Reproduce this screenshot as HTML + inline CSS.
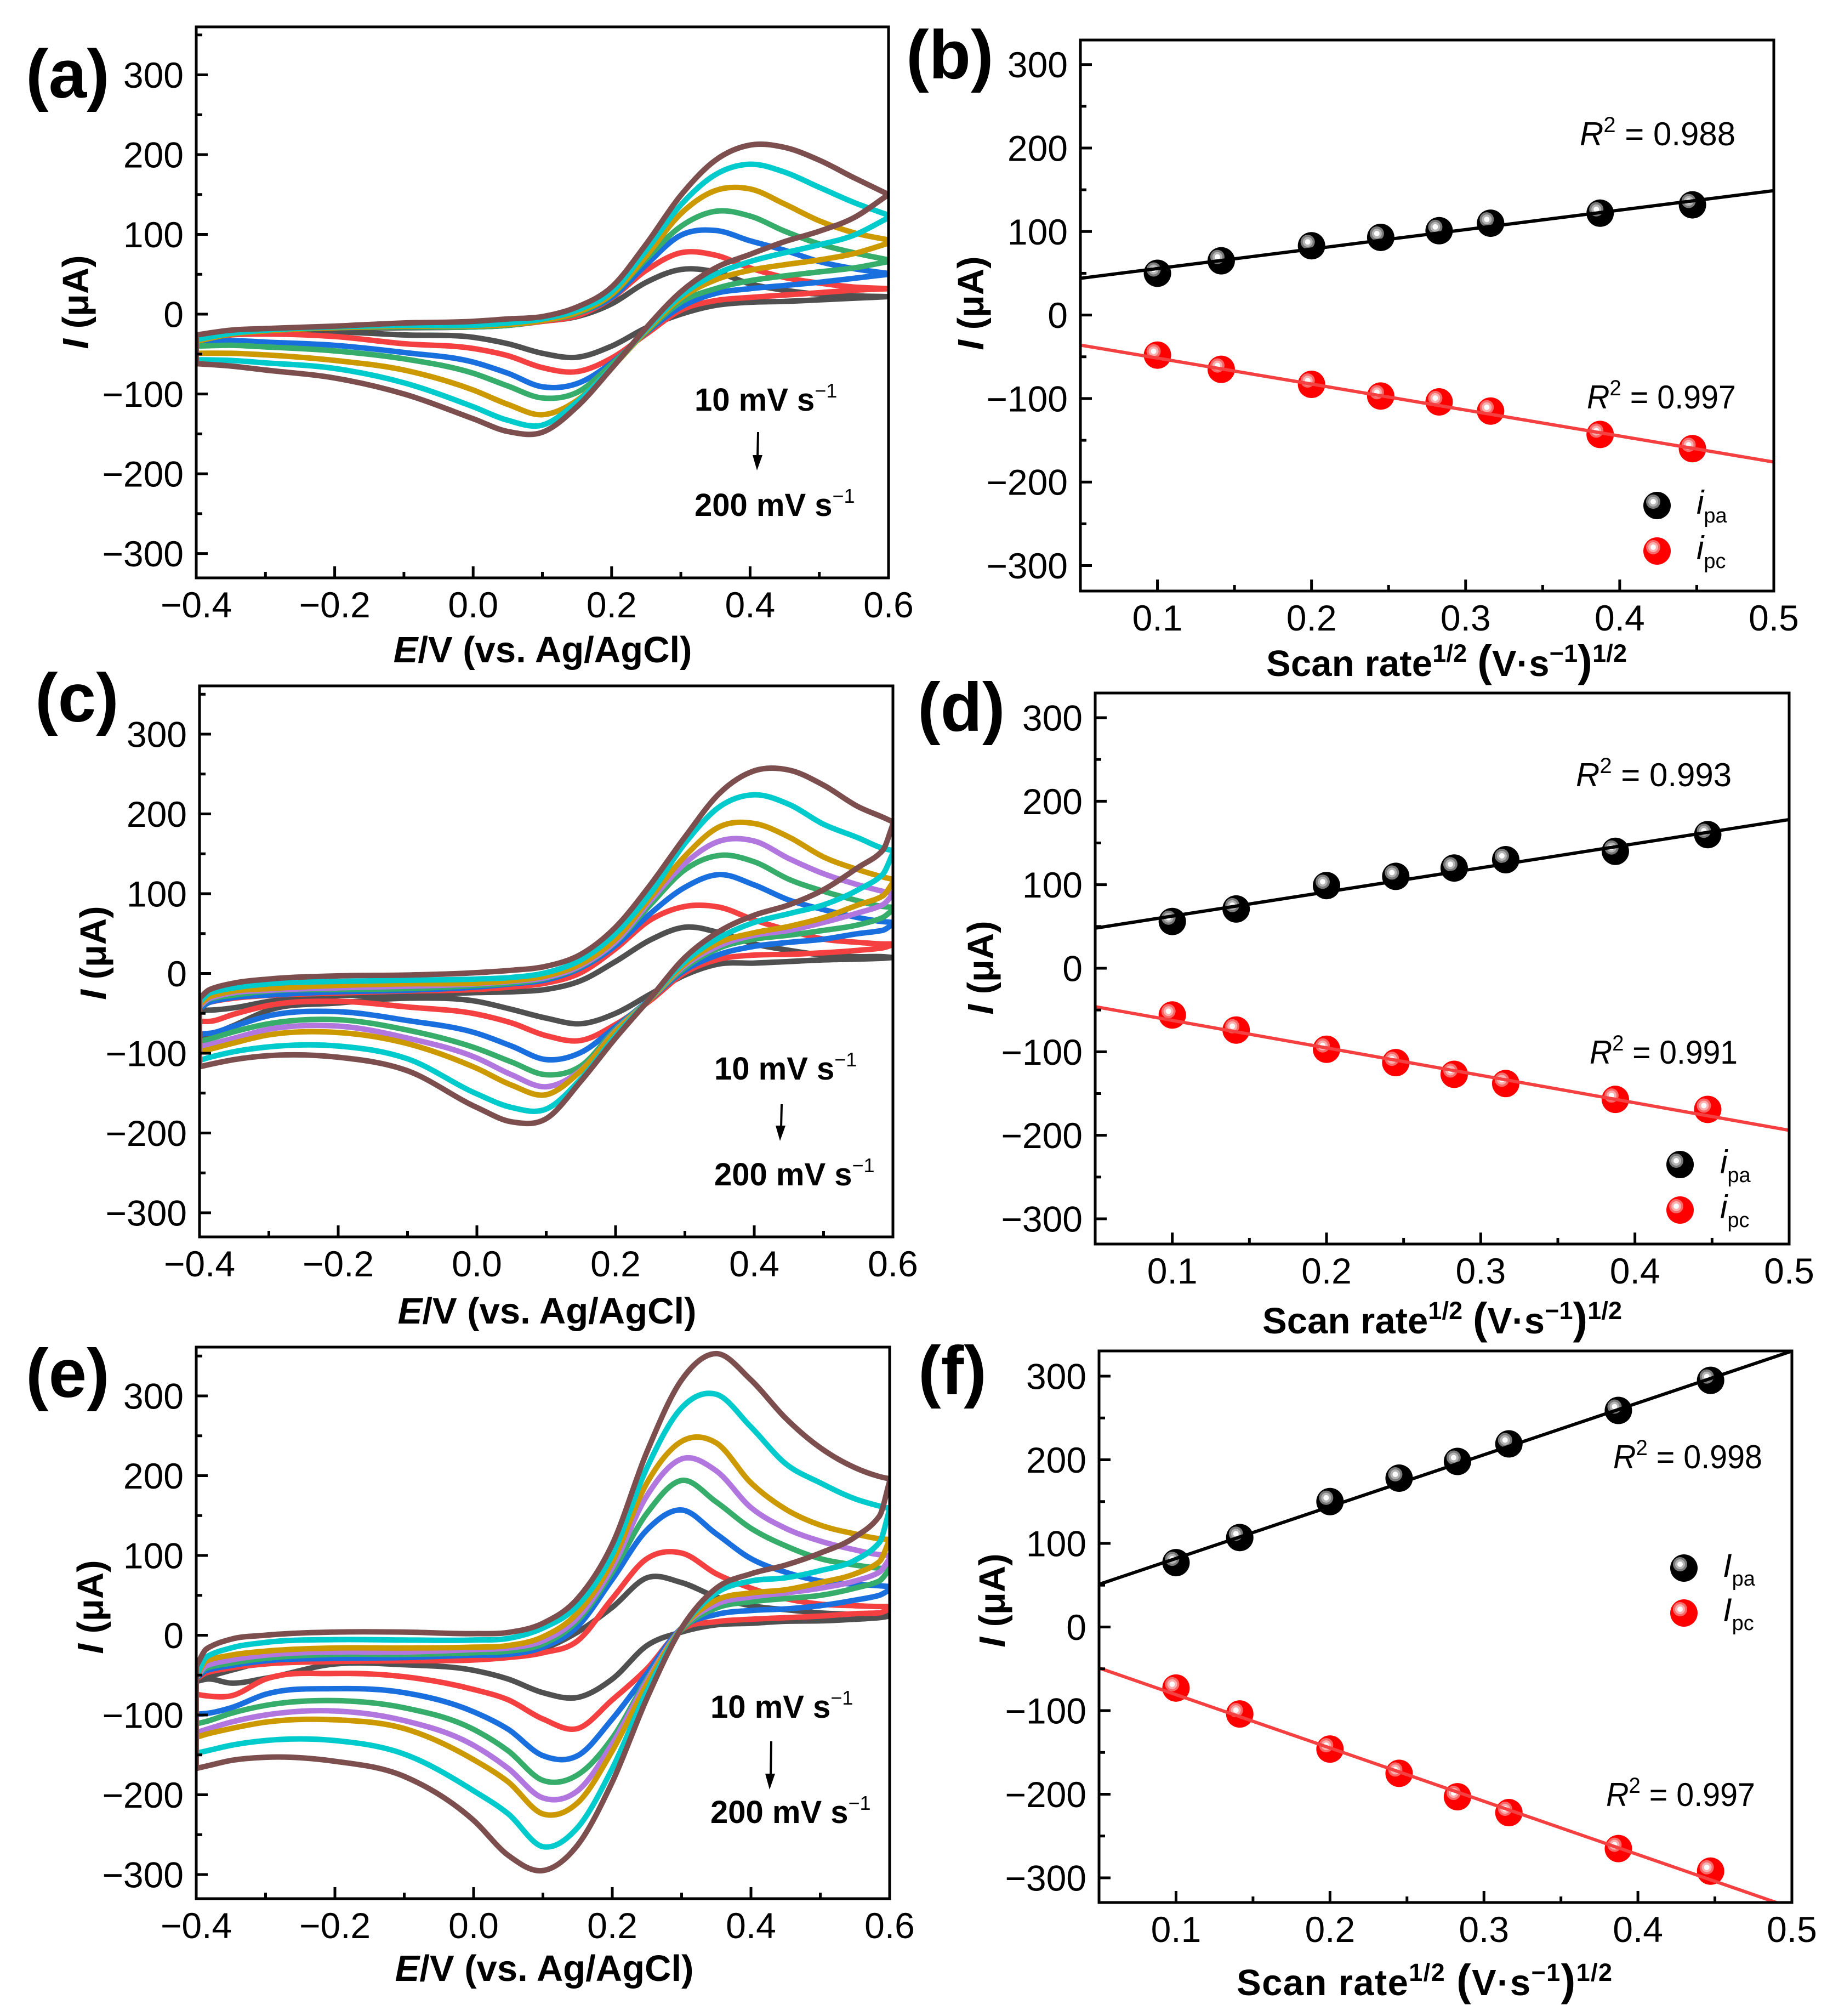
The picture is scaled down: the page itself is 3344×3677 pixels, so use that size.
<!DOCTYPE html>
<html lang="en">
<head>
<meta charset="utf-8">
<title>Cyclic voltammetry and scan-rate fits</title>
<style>
html,body{margin:0;padding:0;background:#fff;}
svg{display:block;font-family:"Liberation Sans",sans-serif;fill:#000;}
.tl{font-size:66px;}
.ti{font-size:67px;font-weight:bold;}
.pl{font-size:125px;font-weight:bold;}
.an{font-size:58px;font-weight:bold;}
.r2{font-size:60px;}
.lg{font-size:60px;font-style:italic;}
</style>
</head>
<body>
<svg id="fig" xmlns="http://www.w3.org/2000/svg" width="3344" height="3677" viewBox="0 0 3344 3677">
<rect x="0" y="0" width="3344" height="3677" fill="#fff"/>

<g id="panel-a">
  <text class="pl" x="47" y="178">(a)</text>
  <text class="ti" text-anchor="middle" transform="translate(161,551) rotate(-90)"><tspan font-style="italic">I</tspan> (μA)</text>
  <text class="ti" text-anchor="middle" x="990" y="1208"><tspan font-style="italic">E</tspan>/V (vs. Ag/AgCl)</text>
  <text class="an" x="1267" y="749">10 mV s<tspan dy="-24" font-size="36" font-weight="normal">−1</tspan></text>
  <text class="an" x="1267" y="941">200 mV s<tspan dy="-24" font-size="36" font-weight="normal">−1</tspan></text>
  <g><line x1="1383" y1="788" x2="1382" y2="835" stroke="#000" stroke-width="4"/><polygon points="1373,830 1391,830 1381,858" fill="#000"/></g>
</g>

<g id="panel-b">
  <text class="pl" x="1653" y="143">(b)</text>
  <text class="ti" text-anchor="middle" transform="translate(1794,553) rotate(-90)"><tspan font-style="italic">I</tspan> (μA)</text>
  <text class="ti" x="2310" y="1233" textLength="658">Scan rate<tspan dy="-26" font-size="45">1/2</tspan><tspan dy="26"> </tspan><tspan font-size="80">(</tspan>V·s<tspan dy="-26" font-size="45">−1</tspan><tspan dy="26" font-size="80">)</tspan><tspan dy="-26" font-size="45">1/2</tspan></text>
  <text class="r2" x="2882" y="265"><tspan font-style="italic">R</tspan><tspan dy="-24" font-size="40">2</tspan><tspan dy="24"> = 0.988</tspan></text>
  <text class="r2" x="2895" y="745" textLength="272" lengthAdjust="spacingAndGlyphs"><tspan font-style="italic">R</tspan><tspan dy="-24" font-size="40">2</tspan><tspan dy="24"> = 0.997</tspan></text>
  <text class="lg" x="3095" y="937">i<tspan dy="16" font-size="38" font-style="normal">pa</tspan></text>
  <text class="lg" x="3095" y="1020">i<tspan dy="16" font-size="38" font-style="normal">pc</tspan></text>
</g>

<g id="panel-c">
  <text class="pl" x="64" y="1316">(c)</text>
  <text class="ti" text-anchor="middle" transform="translate(193,1738) rotate(-90)"><tspan font-style="italic">I</tspan> (μA)</text>
  <text class="ti" text-anchor="middle" x="998" y="2414"><tspan font-style="italic">E</tspan>/V (vs. Ag/AgCl)</text>
  <text class="an" x="1303" y="1969">10 mV s<tspan dy="-24" font-size="36" font-weight="normal">−1</tspan></text>
  <text class="an" x="1303" y="2162">200 mV s<tspan dy="-24" font-size="36" font-weight="normal">−1</tspan></text>
  <g><line x1="1426" y1="2014" x2="1425" y2="2058" stroke="#000" stroke-width="4"/><polygon points="1415,2053 1433,2053 1423,2081" fill="#000"/></g>
</g>

<g id="panel-d">
  <text class="pl" x="1674" y="1333">(d)</text>
  <text class="ti" text-anchor="middle" transform="translate(1812,1765) rotate(-90)"><tspan font-style="italic">I</tspan> (μA)</text>
  <text class="ti" x="2303" y="2432" textLength="656">Scan rate<tspan dy="-26" font-size="45">1/2</tspan><tspan dy="26"> </tspan><tspan font-size="80">(</tspan>V·s<tspan dy="-26" font-size="45">−1</tspan><tspan dy="26" font-size="80">)</tspan><tspan dy="-26" font-size="45">1/2</tspan></text>
  <text class="r2" x="2875" y="1434"><tspan font-style="italic">R</tspan><tspan dy="-24" font-size="40">2</tspan><tspan dy="24"> = 0.993</tspan></text>
  <text class="r2" x="2900" y="1940" textLength="270" lengthAdjust="spacingAndGlyphs"><tspan font-style="italic">R</tspan><tspan dy="-24" font-size="40">2</tspan><tspan dy="24"> = 0.991</tspan></text>
  <text class="lg" x="3138" y="2140">i<tspan dy="16" font-size="38" font-style="normal">pa</tspan></text>
  <text class="lg" x="3138" y="2222">i<tspan dy="16" font-size="38" font-style="normal">pc</tspan></text>
</g>

<g id="panel-e">
  <text class="pl" x="47" y="2548">(e)</text>
  <text class="ti" text-anchor="middle" transform="translate(188,2931) rotate(-90)"><tspan font-style="italic">I</tspan> (μA)</text>
  <text class="ti" text-anchor="middle" x="993" y="3613"><tspan font-style="italic">E</tspan>/V (vs. Ag/AgCl)</text>
  <text class="an" x="1296" y="3133">10 mV s<tspan dy="-24" font-size="36" font-weight="normal">−1</tspan></text>
  <text class="an" x="1296" y="3325">200 mV s<tspan dy="-24" font-size="36" font-weight="normal">−1</tspan></text>
  <g><line x1="1407" y1="3176" x2="1406" y2="3240" stroke="#000" stroke-width="4"/><polygon points="1396,3235 1414,3235 1404,3264" fill="#000"/></g>
</g>

<g id="panel-f">
  <text class="pl" x="1675" y="2543">(f)</text>
  <text class="ti" text-anchor="middle" transform="translate(1833,2919) rotate(-90)"><tspan font-style="italic">I</tspan> (μA)</text>
  <text class="ti" x="2256" y="3639" textLength="685">Scan rate<tspan dy="-26" font-size="45">1/2</tspan><tspan dy="26"> </tspan><tspan font-size="80">(</tspan>V·s<tspan dy="-26" font-size="45">−1</tspan><tspan dy="26" font-size="80">)</tspan><tspan dy="-26" font-size="45">1/2</tspan></text>
  <text class="r2" x="2943" y="2678" textLength="272" lengthAdjust="spacingAndGlyphs"><tspan font-style="italic">R</tspan><tspan dy="-24" font-size="40">2</tspan><tspan dy="24"> = 0.998</tspan></text>
  <text class="r2" x="2930" y="3294" textLength="272" lengthAdjust="spacingAndGlyphs"><tspan font-style="italic">R</tspan><tspan dy="-24" font-size="40">2</tspan><tspan dy="24"> = 0.997</tspan></text>
  <text class="lg" x="3143" y="2876">I<tspan dy="16" font-size="38" font-style="normal">pa</tspan></text>
  <text class="lg" x="3143" y="2957">I<tspan dy="16" font-size="38" font-style="normal">pc</tspan></text>
</g>
</svg>

<script>
/* ---------- CV potentials (V) ---------- */
const potentialsA = [-0.4,-0.35,-0.3,-0.2,-0.1,0,0.05,0.1,0.15,0.2,0.25,0.3,0.35,0.4,0.45,0.5,0.55,0.6];
const potentialsCE = [-0.4,-0.385,-0.35,-0.3,-0.2,-0.1,0,0.05,0.1,0.15,0.2,0.25,0.3,0.35,0.4,0.45,0.5,0.55,0.585,0.6];

/* ---------- Panel (a) currents (uA) : forward sweep ---------- */
const aFwd10 = [-34,-25,-21,-18,-17,-16,-14,-9,-3,13,40,56,53,38,30,25,23,22];
const aFwd20 = [-34,-25,-21,-17,-16,-16,-14,-9,-2,20,55,77,74,58,46,39,34,32];
const aFwd50 = [-34,-25,-21,-17,-16,-16,-14,-8,1,21,62,99,105,92,80,66,57,51];
const aFwd80 = [-34,-25,-21,-17,-16,-16,-14,-8,1,24,69,110,129,123,104,88,77,68];
const aFwd100 = [-34,-25,-21,-17,-15,-15,-13,-8,2.5,25,73,126,155,157,138,117,102,93];
const aFwd150 = [-32,-24,-20,-16,-14,-14,-11,-6,5,28,80,137,175,188,178,159,140,124];
const aFwd200 = [-26,-20,-18,-15,-11,-9,-6,-3,9,34,88,149,193,212,209,193,171,150];
/* Panel (a) : reverse sweep */
const aRev10 = [-34,-23,-21,-22,-26,-29,-37,-49,-54,-40,-17,0,11,15,16,18,20,22];
const aRev20 = [-34,-26,-25,-28,-37,-43,-52,-67,-72,-55,-25,5,17,21,24,27,30,32];
const aRev50 = [-34,-33,-35,-39,-48,-60,-74,-91,-87,-61,-23,9,26,32,36,40,45,50];
const aRev80 = [-40,-39,-41,-46,-56,-74,-90,-105,-98,-63,-22,15,32,42,48,53,58,66];
const aRev100 = [-49,-49,-51,-58,-70,-95,-113,-126,-108,-67,-21,20,43,55,62,68,76,89];
const aRev150 = [-57,-58,-61,-68,-86,-116,-133,-139,-110,-67,-19,23,50,66,77,87,99,121];
const aRev200 = [-62,-65,-70,-80,-100,-131,-147,-148,-116,-68,-17,28,58,75,91,104,121,150];

/* ---------- Panel (c) ---------- */
const cFwd10 = [-46,-46,-43,-35,-28,-27,-24,-23,-20,-9,15,42,58,51,37,29,23,21,21,20];
const cFwd20 = [-44,-36,-31,-27.5,-24.5,-22,-20,-17,-12,1,31,67,84,83,67,54,43,39,37,37];
const cFwd50 = [-44,-36,-30,-27,-23,-21,-17,-13,-8,7,35,75,108,124,111,92,80,70,65,64];
const cFwd80 = [-42,-32,-27,-22,-20,-19,-15,-12,-6,9,39,86,130,148,140,118,103,91,84,83];
const cFwd100 = [-41,-31,-24,-21,-18,-16,-13,-10,-5,10,40,91,138,166,166,144,125,111,103,100];
const cFwd120 = [-39,-29,-22,-19,-15,-13,-12,-9,-3,12,43,95,147,184,188,171,146,130,121,118];
const cFwd150 = [-36,-24.5,-18,-13,-10,-8.5,-7,-5,1,17,50,100,163,209,224,212,187,170,157,154];
const cFwd200 = [-31,-20,-12,-7,-3,-2,1,4,9,24,58,111,171,226,254,255,236,209,196,190];
const cRev10 = [-85,-78,-65,-46,-37,-31,-35,-45,-56,-63,-50,-26,-2,12,13,15,17,18,19,20];
const cRev20 = [-60,-60,-51,-40,-35,-42,-51,-62,-78,-84,-64,-34,1,18,23,24,26,29,32,36];
const cRev50 = [-76,-75,-66,-53,-48,-59,-75,-91,-108,-99,-67,-32,4,24,34,39,43,50,54,62];
const cRev80 = [-85,-82,-73,-63,-58,-71,-94,-111,-127,-116,-70,-32,7,32,43,48,54,61,70,80];
const cRev100 = [-92,-89,-81,-70,-66,-81,-106,-127,-142,-121,-72,-32,10,35,48,54,64,76,86,99];
const cRev120 = [-98,-95,-87,-77,-74,-88,-119,-140,-152,-122,-73,-32,12,39,51,59,70,86,97,114];
const cRev150 = [-109,-105,-98,-92,-91,-107,-151,-168,-170,-132,-78,-31,15,45,64,75,86,105,124,151];
const cRev200 = [-117,-114,-108,-103,-105,-122,-168,-186,-182,-135,-81,-31,20,53,73,86,105,133,154,187];

/* ---------- Panel (e) ---------- */
const eFwd10 = [-54,-52,-44,-33,-24,-24,-26,-25,-17,4,35,72,66,48,37,32,28,26,25,25];
const eFwd20 = [-55,-47,-41,-36,-33,-32,-31,-28,-22,-7,46,96,103,77,59,46,39,37,36,36];
const eFwd50 = [-54,-44,-38,-32,-29,-28,-25,-24,-15,11,70,132,157,127,96,79,68,64,62,61];
const eFwd80 = [-53,-41,-35,-29,-24,-24,-22,-20,-11,18,79,153,194,167,134,112,96,88,84,83];
const eFwd100 = [-53,-38,-31,-25,-21,-21,-18,-16,-7,22,85,175,221,206,160,134,118,107,101,100];
const eFwd120 = [-52,-32,-25,-20,-16,-16,-15,-13,-2,28,92,191,243,241,191,158,138,127,121,120];
const eFwd150 = [-51,-27,-16,-9,-5.5,-6,-6,-4,9,37,101,210,285,302,261,215,191,171,162,159];
const eFwd200 = [-39,-17,-5,0,4,4,2,3.5,15,46,114,230,320,353,320,272,235,210,199,196];
const eRev10 = [-58,-55,-60,-54,-36,-37,-44,-55,-72,-78,-55,-13,4,13,15,17.5,18,20,22,24];
const eRev20 = [-74,-76,-76,-55,-48,-52,-68,-81,-105,-117,-81,-42,7,17,20,22,24,27,28,33];
const eRev50 = [-99,-98,-91,-74,-67,-72,-96,-118,-151,-151,-105,-48,9,26,31,33,37,44,50,57];
const eRev80 = [-111,-108,-98,-88,-82,-91,-118,-145,-182,-175,-129,-55,7,34,42,46,50,59,68,83];
const eRev100 = [-122,-118,-109,-100,-95,-107,-138,-167,-204,-195,-136,-57,9,39,48,53,59,68,79,96];
const eRev120 = [-128,-124,-117,-109,-106,-117,-156,-184,-224,-210,-145,-61,9,44,53,57,66,77,92,120];
const eRev150 = [-148,-145,-138,-132,-132,-149,-195,-224,-265,-241,-167,-70,9,53,68,72,81,94,116,158];
const eRev200 = [-167,-164,-157,-153,-158,-177,-232,-276,-295,-263,-184,-79,9,59,77,88,103,123,149,193];

/* ---------- Scan-rate fits ---------- */
const sqrtScanRates = [0.1,0.1414,0.2,0.2449,0.2828,0.3162,0.3873,0.4472];
const fitEnds = [0.05,0.5];
const bPa = [50,65,83,93,101,110,122,132];
const bPc = [-48,-65,-83,-97,-104,-115,-143,-160];
const bFitPa = [44,149];
const bFitPc = [-36,-176];
const dPa = [56,71,99,110,120,130,140,160];
const dPc = [-56,-74,-97,-113,-127,-138,-157,-169];
const dFitPa = [48,178];
const dFitPc = [-46,-194];
const fPa = [77,107,150,178,198,219,259,295];
const fPc = [-73,-104,-146,-175,-203,-222,-265,-292];
const fFitPa = [51,330];
const fFitPc = [-49,-336];

/* ---------- Tick labels ---------- */
const yTickValues = [-300,-200,-100,0,100,200,300];
const yTickLabels = ['−300','−200','−100','0','100','200','300'];
const yMinorValues = [-250,-150,-50,50,150,250,350];
const cvXTickValues = [-0.4,-0.2,0,0.2,0.4,0.6];
const cvXTickLabels = ['−0.4','−0.2','0.0','0.2','0.4','0.6'];
const cvXMinorValues = [-0.3,-0.1,0.1,0.3,0.5];
const fitXTickValues = [0.1,0.2,0.3,0.4,0.5];
const fitXTickLabels = ['0.1','0.2','0.3','0.4','0.5'];
const fitXMinorValues = [0.15,0.25,0.35,0.45];

/* ---------- Series styling ---------- */
const GRAY='#505050',RED='#F44040',BLUE='#1A6FDF',GREEN='#37AD6B',PURPLE='#B177DE',GOLD='#CC9900',CYAN='#00CBCC',BROWN='#7D4E4E';

const SVGNS='http://www.w3.org/2000/svg';
function make(tag,attrs,parent){
  const el=document.createElementNS(SVGNS,tag);
  for(const k in attrs){el.setAttribute(k,attrs[k]);}
  parent.appendChild(el);
  return el;
}
function axisFns(p){
  return {
    x:function(v){return p.L+(v-p.xMin)*(p.R-p.L)/(p.xMax-p.xMin);},
    y:function(v){return p.y300+(300-v)*(p.yNeg300-p.y300)/600;}
  };
}
function branch(xs,ys,start){
  const n=xs.length;
  const m=[];
  for(let i=0;i<n;i++){
    if(i===0){m.push((ys[1]-ys[0])/(xs[1]-xs[0]));}
    else if(i===n-1){m.push((ys[n-1]-ys[n-2])/(xs[n-1]-xs[n-2]));}
    else{
      const h0=xs[i]-xs[i-1],h1=xs[i+1]-xs[i];
      const d0=(ys[i]-ys[i-1])/h0,d1=(ys[i+1]-ys[i])/h1;
      const ratio=Math.min(Math.abs(h0),Math.abs(h1))/Math.max(Math.abs(h0),Math.abs(h1));
      if(ratio<0.49&&d0*d1>0){m.push(2*d0*d1/(d0+d1));}
      else{m.push((h1*d0+h0*d1)/(h0+h1));}
    }
  }
  let d=start+xs[0].toFixed(1)+' '+ys[0].toFixed(1);
  for(let i=0;i<n-1;i++){
    const h=(xs[i+1]-xs[i])/3;
    d+=' C'+(xs[i]+h).toFixed(1)+' '+(ys[i]+m[i]*h).toFixed(1)+' '+(xs[i+1]-h).toFixed(1)+' '+(ys[i+1]-m[i+1]*h).toFixed(1)+' '+xs[i+1].toFixed(1)+' '+ys[i+1].toFixed(1);
  }
  return d;
}
function drawAxes(p,fn,xMajor,xLabels,xMinor){
  const g=document.getElementById(p.id);
  const axes=make('g',{},g);
  
  
  yTickValues.forEach(function(v,i){
    const t=make('line',{x1:p.L,x2:p.L+21,y1:fn.y(v),y2:fn.y(v),stroke:'#000','stroke-width':5},axes);
    
    
    const l=make('text',{class:'tl',x:p.L-23,y:fn.y(v)+23.5,'text-anchor':'end'},axes);
    
    
    l.textContent=yTickLabels[i];
  });
  yMinorValues.forEach(function(v){
    if(fn.y(v)<p.T){return;}
    const t=make('line',{x1:p.L,x2:p.L+11,y1:fn.y(v),y2:fn.y(v),stroke:'#000','stroke-width':5},axes);
    
    
  });
  xMajor.forEach(function(v,i){
    const t=make('line',{x1:fn.x(v),x2:fn.x(v),y1:p.B,y2:p.B-21,stroke:'#000','stroke-width':5},axes);
    
    
    const l=make('text',{class:'tl',x:fn.x(v),y:p.B+72,'text-anchor':'middle'},axes);
    
    
    l.textContent=xLabels[i];
  });
  xMinor.forEach(function(v){
    const t=make('line',{x1:fn.x(v),x2:fn.x(v),y1:p.B,y2:p.B-11,stroke:'#000','stroke-width':5},axes);
    
    
  });
}
function drawFrame(p){
  const g=document.getElementById(p.id);
  const f=make('rect',{x:p.L,y:p.T,width:p.R-p.L,height:p.B-p.T,fill:'none',stroke:'#000','stroke-width':5},g);
  
  
}
function makeClip(p){
  const g=document.getElementById(p.id);
  const c=make('clipPath',{id:p.id+'-clip'},g);
  make('rect',{x:p.L,y:p.T,width:p.R-p.L,height:p.B-p.T},c);
  const plot=make('g',{'clip-path':'url(#'+p.id+'-clip)'},g);
  
  
  return plot;
}
function drawCV(p,potentials,series){
  const fn=axisFns(p);
  const plot=makeClip(p);
  const xs=potentials.map(fn.x);
  const xsR=xs.slice().reverse();
  series.forEach(function(s){
    const yF=s.fwd.map(fn.y);
    const yR=s.rev.map(fn.y).reverse();
    const d=branch(xs,yF,'M')+' '+branch(xsR,yR,'L')+' Z';
    const path=make('path',{d:d,fill:'none',stroke:s.color,'stroke-width':10,'stroke-linejoin':'round'},plot);
    
    
  });
  drawAxes(p,fn,cvXTickValues,cvXTickLabels,cvXMinorValues);
  drawFrame(p);
}
function sphere(parent,cx,cy,kind){
  const base=kind==='pa'?'#000000':'#ff0000';
  const ring1=kind==='pa'?'#7a7a7a':'#f86a6a';
  const ring2=kind==='pa'?'#b4b4b4':'#fbb0b0';
  const g=make('g',{},parent);
  
  
  make('circle',{cx:cx,cy:cy,r:25,fill:base},g);
  make('circle',{cx:cx-7,cy:cy-7,r:13,fill:ring1},g);
  make('circle',{cx:cx-7,cy:cy-7,r:9,fill:ring2},g);
  make('circle',{cx:cx-7,cy:cy-7,r:5,fill:'#ffffff'},g);
}
function drawFit(p,pa,pc,fitPa,fitPc,legend){
  const fn=axisFns(p);
  const plot=makeClip(p);
  sqrtScanRates.forEach(function(v,i){sphere(plot,fn.x(v),fn.y(pa[i]),'pa');});
  sqrtScanRates.forEach(function(v,i){sphere(plot,fn.x(v),fn.y(pc[i]),'pc');});
  const l1=make('line',{x1:fn.x(fitEnds[0]),y1:fn.y(fitPa[0]),x2:fn.x(fitEnds[1]),y2:fn.y(fitPa[1]),stroke:'#000','stroke-width':6},plot);
  
  
  const l2=make('line',{x1:fn.x(fitEnds[0]),y1:fn.y(fitPc[0]),x2:fn.x(fitEnds[1]),y2:fn.y(fitPc[1]),stroke:'#F44040','stroke-width':6},plot);
  
  
  const g=document.getElementById(p.id);
  sphere(g,legend.x,legend.y1,'pa');
  sphere(g,legend.x,legend.y2,'pc');
  drawAxes(p,fn,fitXTickValues,fitXTickLabels,fitXMinorValues);
  drawFrame(p);
}

drawCV({id:'panel-a',L:358,R:1621,T:49,B:1054,xMin:-0.4,xMax:0.6,y300:136.5,yNeg300:1009.6},potentialsA,[
  {rate:10,color:GRAY,fwd:aFwd10,rev:aRev10},
  {rate:20,color:RED,fwd:aFwd20,rev:aRev20},
  {rate:50,color:BLUE,fwd:aFwd50,rev:aRev50},
  {rate:80,color:GREEN,fwd:aFwd80,rev:aRev80},
  {rate:100,color:GOLD,fwd:aFwd100,rev:aRev100},
  {rate:150,color:CYAN,fwd:aFwd150,rev:aRev150},
  {rate:200,color:BROWN,fwd:aFwd200,rev:aRev200}
]);
drawCV({id:'panel-c',L:364,R:1629,T:1251,B:2256,xMin:-0.4,xMax:0.6,y300:1339,yNeg300:2212},potentialsCE,[
  {rate:10,color:GRAY,fwd:cFwd10,rev:cRev10},
  {rate:20,color:RED,fwd:cFwd20,rev:cRev20},
  {rate:50,color:BLUE,fwd:cFwd50,rev:cRev50},
  {rate:80,color:GREEN,fwd:cFwd80,rev:cRev80},
  {rate:100,color:PURPLE,fwd:cFwd100,rev:cRev100},
  {rate:120,color:GOLD,fwd:cFwd120,rev:cRev120},
  {rate:150,color:CYAN,fwd:cFwd150,rev:cRev150},
  {rate:200,color:BROWN,fwd:cFwd200,rev:cRev200}
]);
drawCV({id:'panel-e',L:358,R:1623,T:2457,B:3463,xMin:-0.4,xMax:0.6,y300:2546,yNeg300:3419},potentialsCE,[
  {rate:10,color:GRAY,fwd:eFwd10,rev:eRev10},
  {rate:20,color:RED,fwd:eFwd20,rev:eRev20},
  {rate:50,color:BLUE,fwd:eFwd50,rev:eRev50},
  {rate:80,color:GREEN,fwd:eFwd80,rev:eRev80},
  {rate:100,color:PURPLE,fwd:eFwd100,rev:eRev100},
  {rate:120,color:GOLD,fwd:eFwd120,rev:eRev120},
  {rate:150,color:CYAN,fwd:eFwd150,rev:eRev150},
  {rate:200,color:BROWN,fwd:eFwd200,rev:eRev200}
]);
drawFit({id:'panel-b',L:1971,R:3236,T:73,B:1078,xMin:0.05,xMax:0.5,y300:117.7,yNeg300:1031.5},bPa,bPc,bFitPa,bFitPc,{x:3023,y1:922,y2:1005});
drawFit({id:'panel-d',L:1998,R:3264,T:1264,B:2269,xMin:0.05,xMax:0.5,y300:1309,yNeg300:2223},dPa,dPc,dFitPa,dFitPc,{x:3065,y1:2124,y2:2207});
drawFit({id:'panel-f',L:2005,R:3269,T:2464,B:3470,xMin:0.05,xMax:0.5,y300:2510,yNeg300:3425},fPa,fPc,fFitPa,fFitPc,{x:3072,y1:2860,y2:2942});
</script>
</body>
</html>
